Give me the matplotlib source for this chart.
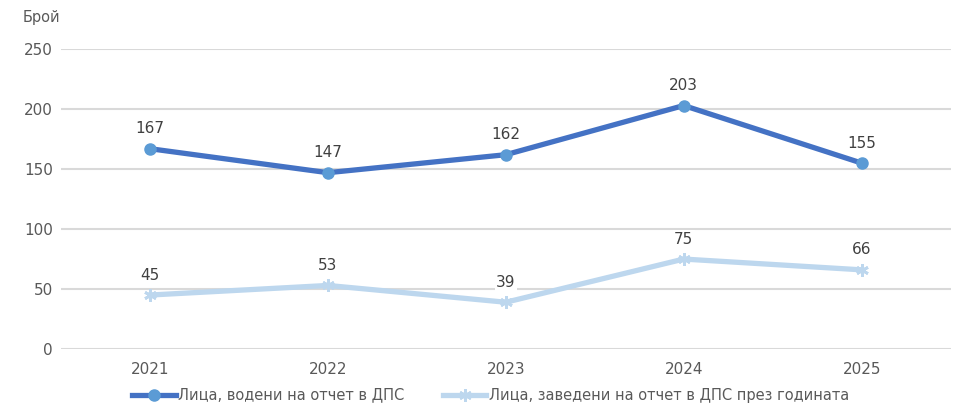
import matplotlib.pyplot as plt
import numpy as np

years = ["2021", "2022", "2023", "2024", "2025"]
kept = [167, 147, 162, 203, 155]
new = [45, 53, 39, 75, 66]
label_kept = "Лица, водени на отчет в ДПС"
label_new = "Лица, заведени на отчет в ДПС през годината"

fig = plt.figure(figsize=(9.75, 4.2), dpi=100)
ax = fig.add_axes([0.0626, 0.169, 0.9124, 0.714])

x = np.arange(len(years))
ax.plot(x, kept, color="#4472C4", lw=3.8, marker="o", ms=8,
        mfc="#5B9BD5", mec="#5B9BD5", label=label_kept, zorder=3)
ax.plot(x, new, color="#BDD7EE", lw=3.8, marker=(6, 2, 0), ms=9,
        mec="#BDD7EE", mew=2, label=label_new, zorder=3)

for xi, v in zip(x, kept):
    ax.annotate(str(v), (xi, v), xytext=(0, 9), textcoords="offset points",
                ha="center", va="bottom", fontsize=11, color="#404040",
                bbox=dict(facecolor="white", edgecolor="none", pad=1))
for xi, v in zip(x, new):
    ax.annotate(str(v), (xi, v), xytext=(0, 9), textcoords="offset points",
                ha="center", va="bottom", fontsize=11, color="#404040",
                bbox=dict(facecolor="white", edgecolor="none", pad=1))

ax.set_xlim(-0.5, 4.5)
ax.set_ylim(0, 250)
ax.set_yticks(range(0, 251, 50))
ax.set_xticks(x)
ax.set_xticklabels(years)
ax.tick_params(length=0, labelsize=11, labelcolor="#595959")
ax.tick_params(axis="x", pad=9)
ax.tick_params(axis="y", pad=6)
ax.grid(axis="y", color="#D9D9D9", lw=1.5)
ax.set_axisbelow(True)
for s in ax.spines.values():
    s.set_visible(False)

fig.text(0.023, 0.958, "Брой", fontsize=10.5, color="#595959", ha="left", va="center")

ax.legend(loc="upper center", bbox_to_anchor=(0.483, -0.085), ncol=2, frameon=False,
          fontsize=10.5, labelcolor="#595959", handlelength=3, handletextpad=0.2,
          columnspacing=2.6)

fig.savefig("out.png", dpi=100)
